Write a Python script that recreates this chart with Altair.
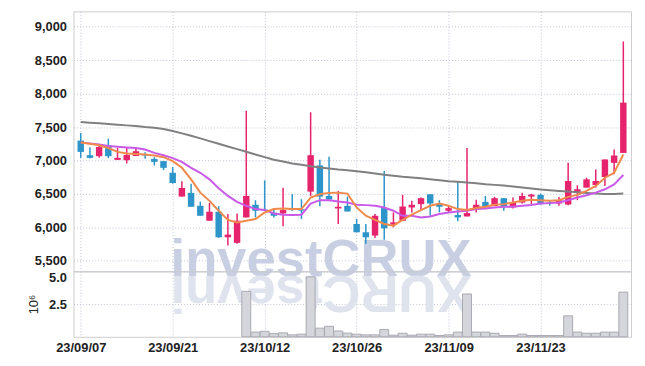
import json
import numpy as np
import pandas as pd
import altair as alt

dates = ["23/09/07", "23/09/08", "23/09/11", "23/09/12", "23/09/13", "23/09/14", "23/09/15",
         "23/09/18", "23/09/19", "23/09/20", "23/09/21", "23/09/22", "23/09/25", "23/09/26",
         "23/09/27", "23/10/04", "23/10/05", "23/10/06", "23/10/10", "23/10/11", "23/10/12",
         "23/10/13", "23/10/16", "23/10/17", "23/10/18", "23/10/19", "23/10/20", "23/10/23",
         "23/10/24", "23/10/25", "23/10/26", "23/10/27", "23/10/30", "23/10/31", "23/11/01",
         "23/11/02", "23/11/03", "23/11/06", "23/11/07", "23/11/08", "23/11/09", "23/11/10",
         "23/11/13", "23/11/14", "23/11/15", "23/11/16", "23/11/17", "23/11/20", "23/11/21",
         "23/11/22", "23/11/23", "23/11/24", "23/11/27", "23/11/28", "23/11/29", "23/11/30",
         "23/12/01", "23/12/04", "23/12/05", "23/12/06"]

opens = [7297, 7079, 7064, 7227, 7009, 7004, 7068, 7089, 7024, 6990,
         6816, 6460, 6515, 6322, 6099, 6233, 5851, 5768, 6148, 6337,
         6267, 6218, 6208, 6277, 6270, 6534, 6926, 6470, 6282, 6322,
         6050, 5926, 5877, 6287, 6040, 6099, 6297, 6347, 6495, 6347,
         6248, 6184, 6163, 6287, 6381, 6317, 6436, 6297, 6371, 6460,
         6485, 6371, 6356, 6341, 6519, 6594, 6633, 6752, 6964, 7113]
highs = [7410, 7197, 7234, 7326, 7187, 7202, 7187, 7123, 7049, 6990,
         6901, 6688, 6653, 6386, 6366, 6317, 6199, 6208, 7742, 6406,
         6703, 6273, 6593, 6496, 6420, 7721, 7009, 7054, 6545, 6460,
         6124, 6050, 6200, 6841, 6223, 6485, 6396, 6445, 6495, 6406,
         6322, 6693, 7187, 6411, 6470, 6455, 6436, 6445, 6519, 6500,
         6505, 6406, 6455, 6965, 6629, 6742, 6866, 7015, 7163, 8781]
lows = [7039, 7030, 7039, 7034, 7009, 6955, 7068, 7024, 6926, 6856,
        6653, 6460, 6307, 6173, 6099, 5842, 5728, 5753, 6148, 6148,
        6248, 6148, 6015, 6248, 6125, 6470, 6317, 6415, 6050, 6237,
        5926, 5753, 5842, 5813, 6000, 6099, 6223, 6258, 6173, 6223,
        6218, 6089, 6163, 6223, 6272, 6317, 6248, 6282, 6356, 6347,
        6340, 6322, 6322, 6331, 6406, 6594, 6594, 6619, 6792, 7113]
closes = [7128, 7039, 7202, 7064, 7039, 7083, 7138, 7074, 6979, 6890,
          6663, 6589, 6307, 6173, 6233, 5851, 5891, 6099, 6470, 6248,
          6252, 6173, 6258, 6258, 6250, 7079, 6460, 6415, 6307, 6237,
          5926, 5851, 6173, 5985, 6074, 6311, 6337, 6436, 6356, 6307,
          6287, 6148, 6213, 6337, 6317, 6436, 6307, 6371, 6470, 6490,
          6347, 6356, 6406, 6693, 6569, 6718, 6693, 7015, 7074, 7865]

ma_short = [7270, 7250, 7227, 7187, 7128, 7104, 7098, 7089, 7074, 7049,
            6990, 6890, 6718, 6519, 6396, 6248, 6110, 6074, 6099, 6124,
            6222, 6273, 6282, 6273, 6273, 6445, 6495, 6515, 6519, 6504,
            6297, 6173, 6110, 6050, 6025, 6110, 6190, 6258, 6322, 6356,
            6322, 6273, 6258, 6288, 6307, 6337, 6347, 6371, 6396, 6411,
            6406, 6396, 6406, 6455, 6485, 6544, 6619, 6742, 6816, 7089]
ma_mid = [7268, 7255, 7240, 7215, 7205, 7195, 7187, 7163, 7113, 7077,
          7035, 6980, 6890, 6816, 6718, 6584, 6470, 6381, 6322, 6273,
          6258, 6208, 6188, 6184, 6188, 6356, 6406, 6406, 6386, 6371,
          6337, 6332, 6322, 6297, 6248, 6173, 6173, 6148, 6163, 6199,
          6223, 6238, 6248, 6273, 6282, 6297, 6307, 6307, 6322, 6335,
          6356, 6362, 6371, 6406, 6445, 6480, 6519, 6569, 6643, 6782]
ma_long = [7575, 7565, 7555, 7545, 7535, 7525, 7515, 7500, 7490, 7470,
           7440, 7405, 7370, 7330, 7290, 7250, 7210, 7170, 7130, 7090,
           7050, 7010, 6985, 6955, 6935, 6915, 6895, 6880, 6865, 6855,
           6840, 6825, 6805, 6785, 6770, 6755, 6745, 6735, 6720, 6705,
           6690, 6680, 6670, 6660, 6645, 6635, 6625, 6610, 6595, 6580,
           6565, 6555, 6545, 6535, 6525, 6515, 6505, 6500, 6500, 6505]

volume_m = [0, 0, 0, 0, 0, 0, 0, 0, 0, 0,
            0, 0, 0, 0, 0, 0, 0, 0, 3.47, 0.36,
            0.42, 0.25, 0.3, 0.15, 0.2, 4.58, 0.66, 0.8, 0.44, 0.28,
            0.2, 0.15, 0.15, 0.56, 0.12, 0.27, 0.12, 0.2, 0.2, 0.1,
            0.15, 0.36, 3.27, 0.36, 0.36, 0.27, 0.1, 0.1, 0.2, 0.1,
            0.1, 0.1, 0.1, 1.6, 0.36, 0.27, 0.27, 0.36, 0.36, 3.41]

price_ticks = [5500, 6000, 6500, 7000, 7500, 8000, 8500, 9000]
vol_ticks = [2.5, 5.0]
date_tick_idx = [0, 10, 20, 30, 40, 50]

df = pd.DataFrame({
    "i": list(range(len(dates))), "date": dates,
    "open": opens, "high": highs, "low": lows, "close": closes,
    "ma_short": ma_short, "ma_mid": ma_mid, "ma_long": ma_long,
    "volume": volume_m,
})
df["dir"] = np.where(df["close"] >= df["open"], "up", "down")

W = 562
PH = 262
VH = 66
GRID = "#c0c3d6"
FONT = "Liberation Sans"
LABEL = "#222222"
WM_FONT = "Liberation Sans"

xscale = alt.Scale(domain=[-0.25, 59.3], nice=False, zero=False)
color_scale = alt.Scale(domain=["up", "down"], range=["#e6236d", "#2d95c9"])
label_expr = json.dumps(dates) + "[datum.value]"

base = alt.Chart(df)

x_grid_axis = alt.Axis(values=date_tick_idx, tickCount=20, grid=True, gridDash=[1, 2],
                       gridColor=GRID, labels=False, ticks=False, domain=False, title=None)
price_scale = alt.Scale(domain=[5342, 9230], nice=False, zero=False)
price_axis = alt.Axis(values=price_ticks, tickCount=20, format=",d", labelOverlap=False,
                      grid=True, gridDash=[1, 2], gridColor=GRID,
                      ticks=False, domain=False, labelPadding=7, labelFont=FONT, labelFontSize=13,
                      labelFontWeight="bold", labelColor=LABEL, title=None,
                      minExtent=65, maxExtent=65)

wm = alt.Chart(pd.DataFrame({"t": ["investCRUX"]})).mark_text(
    font=WM_FONT, fontWeight="bold", fontSize=53, color="#c9cfe2",
    align="center", baseline="alphabetic"
).encode(text="t:N", x=alt.value(249.5), y=alt.value(267))

wick = base.mark_rule(strokeWidth=1.5).encode(
    x=alt.X("i:Q", scale=xscale, axis=x_grid_axis),
    y=alt.Y("low:Q", scale=price_scale, axis=price_axis),
    y2="high:Q",
    color=alt.Color("dir:N", scale=color_scale, legend=None),
)
body = base.mark_bar(size=6.5).encode(
    x="i:Q", y="open:Q", y2="close:Q",
    color=alt.Color("dir:N", scale=color_scale, legend=None),
)
l_long = base.mark_line(color="#808080", strokeWidth=2).encode(x="i:Q", y="ma_long:Q")
l_mid = base.mark_line(color="#c95ae8", strokeWidth=2).encode(x="i:Q", y="ma_mid:Q")
l_short = base.mark_line(color="#f08a4b", strokeWidth=2).encode(x="i:Q", y="ma_short:Q")

price = alt.layer(wm, wick, body, l_long, l_mid, l_short).properties(width=W, height=PH)

vol_axis = alt.Axis(values=vol_ticks, tickCount=10, format=".1f", labelOverlap=False,
                    labelFlush=True, grid=True, gridDash=[1, 2], gridColor=GRID,
                    ticks=False, domain=False, labelPadding=7, labelFont=FONT, labelFontSize=13,
                    labelFontWeight="bold", labelColor=LABEL, title="10⁶", titleAngle=-90,
                    titleBaseline="middle", titleAlign="center",
                    titleX=-40, titleY=33, titleFont=FONT, titleFontSize=13,
                    titleFontWeight="normal", titleColor=LABEL,
                    minExtent=65, maxExtent=65)
x_axis_vol = alt.Axis(values=date_tick_idx, tickCount=20, labelExpr=label_expr, grid=True,
                      gridDash=[1, 2], gridColor=GRID, ticks=False, domain=False, labelPadding=5,
                      labelFont=FONT, labelFontSize=13, labelFontWeight="bold", labelColor=LABEL,
                      labelAngle=0, title=None)

refl = alt.Chart(pd.DataFrame({"t": ["XURCtsevni"]})).mark_text(
    font=WM_FONT, fontWeight="bold", fontSize=53, color="#dfe3ee",
    align="center", baseline="alphabetic", angle=180
).encode(text="t:N", x=alt.value(249.5), y=alt.value(5))

vol_bars = base.transform_filter("datum.volume > 0").mark_bar(
    size=9, fill="#d5d5dc", stroke="#a9a9b2", strokeWidth=1
).encode(
    x=alt.X("i:Q", scale=xscale, axis=x_axis_vol),
    y=alt.Y("volume:Q", scale=alt.Scale(domain=[0, 5], nice=False, zero=True), axis=vol_axis),
)

vol = alt.layer(refl, vol_bars).properties(width=W, height=VH)

chart = alt.vconcat(price, vol, spacing=0, bounds="flush").properties(
    padding={"left": 0, "top": 1, "right": 5, "bottom": 5}
).configure_view(stroke="#cccccc")

chart.save("out.html", embed_options={"renderer": "svg", "actions": False})
